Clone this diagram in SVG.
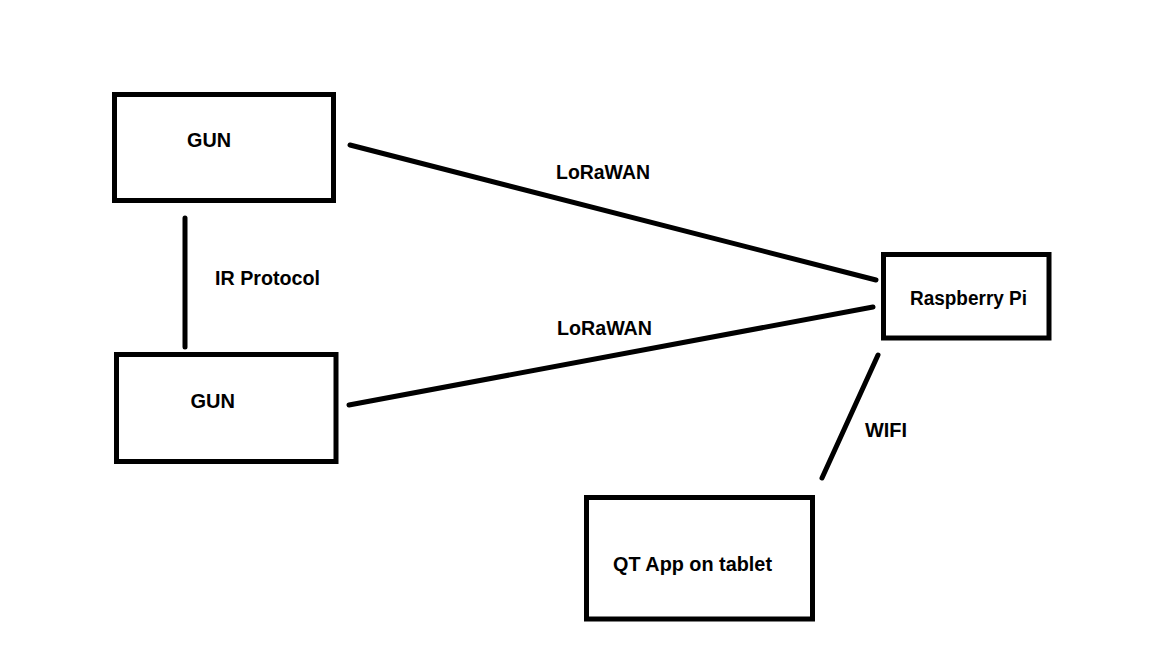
<svg xmlns="http://www.w3.org/2000/svg" width="1152" height="648" viewBox="0 0 1152 648">
<style>
.box{fill:#fff;stroke:#000;stroke-width:5}
.ln{stroke:#000;stroke-width:5;stroke-linecap:round;fill:none}
text{font-family:"Liberation Sans",Arial,sans-serif;font-weight:bold;font-size:19.5px;fill:#000}
</style>
<rect width="1152" height="648" fill="#fff"/>
<g id="connectors">
<line class="ln" x1="350" y1="145" x2="876" y2="280"/>
<line class="ln" x1="349" y1="405" x2="873" y2="307"/>
<line class="ln" x1="185" y1="218" x2="185" y2="347"/>
<line class="ln" x1="878" y1="355" x2="822" y2="478"/>
<text x="556" y="179" textLength="94" lengthAdjust="spacingAndGlyphs">LoRaWAN</text>
<text x="557" y="335" textLength="95" lengthAdjust="spacingAndGlyphs">LoRaWAN</text>
<text x="215" y="285" textLength="105" lengthAdjust="spacingAndGlyphs">IR Protocol</text>
<text x="865" y="437" textLength="42" lengthAdjust="spacingAndGlyphs">WIFI</text>
</g>
<g id="gun1">
<rect class="box" x="114.5" y="94.5" width="219" height="106"/>
<text x="187" y="147" textLength="44" lengthAdjust="spacingAndGlyphs">GUN</text>
</g>
<g id="gun2">
<rect class="box" x="116.5" y="354.5" width="219.5" height="107"/>
<text x="190.5" y="408" textLength="44.5" lengthAdjust="spacingAndGlyphs">GUN</text>
</g>
<g id="raspberry">
<rect class="box" x="883.5" y="254.5" width="165.5" height="83.5"/>
<text x="910" y="305" textLength="117" lengthAdjust="spacingAndGlyphs">Raspberry Pi</text>
</g>
<g id="qtapp">
<rect class="box" x="586.5" y="497.5" width="226" height="121.5"/>
<text x="613" y="571" textLength="159" lengthAdjust="spacingAndGlyphs">QT App on tablet</text>
</g>
</svg>
